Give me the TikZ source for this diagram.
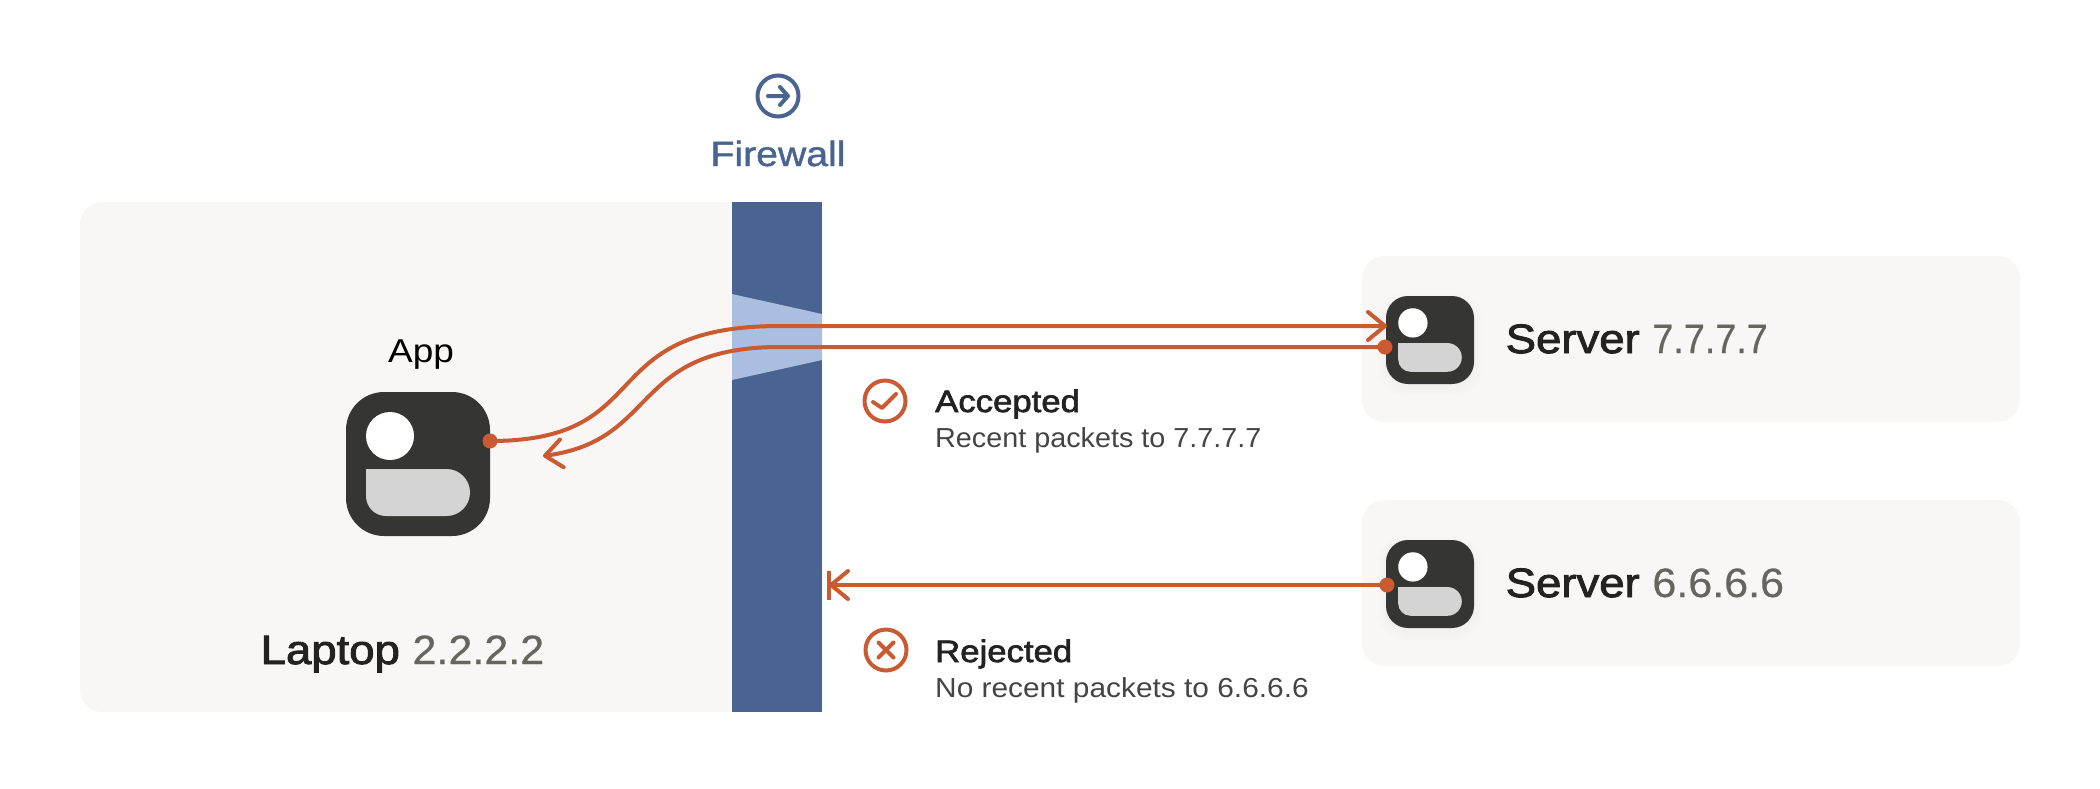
\documentclass[tikz,border=0pt]{standalone}
\usepackage{fontspec}
\setmainfont{Liberation Sans}
\newfontfamily\bigfont[FakeBold=2.2,FakeStretch=1.11]{Liberation Sans}
\newfontfamily\headfont[FakeBold=2.2,FakeStretch=1.12]{Liberation Sans}
\newfontfamily\medfont[FakeBold=1.2,FakeStretch=1.12]{Liberation Sans}
\newfontfamily\regfont[FakeStretch=1.12]{Liberation Sans}
\newfontfamily\numfont[FakeBold=0.5,FakeStretch=1.05]{Liberation Sans}
\newfontfamily\numnarrow[FakeBold=0.5,FakeStretch=0.92]{Liberation Sans}
\newfontfamily\subfonta[FakeStretch=1.046]{Liberation Sans}
\newfontfamily\subfontb[FakeStretch=1.086]{Liberation Sans}
\usetikzlibrary{arrows.meta}
\definecolor{barblue}{HTML}{4A6491}
\definecolor{lightband}{HTML}{AABEDF}
\definecolor{cardbg}{HTML}{F8F7F5}
\definecolor{iconbg}{HTML}{353533}
\definecolor{icongrey}{HTML}{D4D4D4}
\definecolor{wire}{HTML}{C95A32}
\definecolor{inkdark}{HTML}{222222}
\definecolor{inkgrey}{HTML}{666560}
\definecolor{inksub}{HTML}{444444}
\tikzset{
  x=1pt,y=-1pt,
  card/.style={fill=cardbg,rounded corners=22pt,inner sep=0,minimum width=658pt,minimum height=166pt},
  iconbox/.style={fill=iconbg,inner sep=0},
  label/.style={inner sep=0,anchor=base west,text=inkdark},
  big/.style={label,font=\fontsize{41}{46}\selectfont\bigfont},
  head/.style={label,font=\fontsize{31}{36}\selectfont\headfont},
  sub/.style={label,text=inksub,font=\fontsize{27.5}{32}\selectfont},
  wireline/.style={draw=wire,line width=4pt},
  barb/.style={-{Straight Barb[length=17pt,width=28pt,round]}},
  enddot/.style={circle,fill=wire,inner sep=0,minimum size=15pt},
  ringicon/.style={circle,draw=wire,line width=4pt,inner sep=0,minimum size=41pt},
  pics/glyph/.style={code={
    \fill[white] (-28,-28) circle (24);
    \fill[icongrey] (-52,5) -- (28.5,5) arc[start angle=-90,end angle=90,radius=23.5]
      -- (-32,52) arc[start angle=90,end angle=180,radius=20] -- cycle;
  }},
}
\newcommand{\softshadow}[2]{%
  \foreach \g in {8,5,2}
    \fill[black,opacity=0.006,rounded corners=26pt] (#1-44-\g,#2-44-\g+4) rectangle (#1+44+\g,#2+44+\g+4);}
\begin{document}
\begin{tikzpicture}
\useasboundingbox (0,0) rectangle (2100,788);
% panels
\fill[cardbg,rounded corners=22pt] (80,202) rectangle (760,712);
\node[card] (srvA) at (1691,339) {};
\node[card] (srvB) at (1691,583) {};
% firewall
\fill[barblue] (732,202) rectangle (822,712);
\fill[lightband] (732,294) -- (822,314) -- (822,360) -- (732,380) -- cycle;
\node[circle,draw=barblue,line width=4pt,inner sep=0,minimum size=41pt] (fwicon) at (778,96) {};
\draw[barblue,line width=4pt,line cap=round,line join=round]
  (fwicon.center) +(-10,0) -- +(10,0) +(2,-9) -- +(10,0) -- +(2,9);
\node[anchor=base,inner sep=0,text=barblue,font=\fontsize{35}{40}\selectfont\medfont] (fwlabel) at (778,166) {Firewall};
% laptop
\node[inner sep=0,anchor=base,text=black,font=\fontsize{33}{38}\selectfont\regfont] (applabel) at (421,362) {App};
\node[iconbox,rounded corners=38pt,minimum size=144pt] (app) at (418,464) {};
\pic at (app.center) {glyph};
\node[big] (laptoplabel) at (260.5,664) {Laptop \textcolor{inkgrey}{\numfont 2.2.2.2}};
% servers
\softshadow{1430}{340}
\node[iconbox,rounded corners=22pt,minimum size=88pt] (iconA) at (1430,340) {};
\pic[scale=0.611] at (iconA.center) {glyph};
\node[big] (srvAlabel) at (1505.5,353) {Server \textcolor{inkgrey}{\numnarrow 7.7.7.7}};
\softshadow{1430}{584}
\node[iconbox,rounded corners=22pt,minimum size=88pt] (iconB) at (1430,584) {};
\pic[scale=0.611] at (iconB.center) {glyph};
\node[big] (srvBlabel) at (1505.5,597) {Server \textcolor{inkgrey}{\numfont 6.6.6.6}};
% captions
\node[ringicon] (okicon) at (885,401) {};
\draw[wire,line width=4pt,line cap=round,line join=round]
  (okicon.center) +(-12,1) -- +(-3,7) -- +(11,-7);
\node[head] (oklabel) at (935,412) {Accepted};
\node[sub] (oksub) at (935,447) {\subfonta Recent packets to 7.7.7.7};
\node[ringicon] (noicon) at (886,650) {};
\draw[wire,line width=4pt,line cap=round]
  (noicon.center) +(-7.5,-7.5) -- +(7.5,7.5) +(-7.5,7.5) -- +(7.5,-7.5);
\node[head] (nolabel) at (935,662) {Rejected};
\node[sub] (nosub) at (935,697) {\subfontb No recent packets to 6.6.6.6};
% connector ends
\node[enddot] (appdot) at (490,441) {};
\node[enddot] (srvAdot) at (1385,347) {};
\node[enddot] (srvBdot) at (1387,585) {};
\coordinate (appin) at (543,456);
\coordinate (srvAin) at (1387,326);
\coordinate (barin) at (829,585);
% connectors
\draw[wireline,barb] (appdot.center) .. controls (660,441) and (590,326) .. (780,326) -- (srvAin);
\draw[wireline,barb] (srvAdot.center) -- (780,347) .. controls (630,347) and (660,440) .. (appin);
\draw[wireline,barb] (srvBdot.center) -- (barin);
\draw[wireline] (barin) ++(0,-14.5) -- ++(0,29);
\end{tikzpicture}
\end{document}
